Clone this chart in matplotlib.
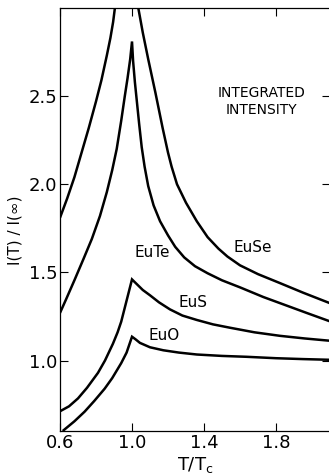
import matplotlib
matplotlib.use("Agg")
import matplotlib.pyplot as plt

# EuSe runs off the top of the frame around T/Tc = 1, so two branches
euse_lo_t = [0.60, 0.64, 0.68, 0.72, 0.76, 0.80, 0.83, 0.86, 0.88, 0.895, 0.905]
euse_lo_y = [1.81, 1.92, 2.04, 2.18, 2.32, 2.47, 2.59, 2.73, 2.83, 2.92, 3.00]
euse_hi_t = [1.035, 1.06, 1.09, 1.13, 1.17, 1.20, 1.22, 1.25, 1.30, 1.36, 1.42, 1.48,
             1.53, 1.60, 1.70, 1.82, 1.95, 2.10]
euse_hi_y = [3.00, 2.86, 2.71, 2.52, 2.32, 2.18, 2.10, 2.00, 1.895, 1.79, 1.70, 1.635,
             1.59, 1.54, 1.49, 1.44, 1.385, 1.325]

eute_t = [0.60, 0.635, 0.68, 0.73, 0.777, 0.822, 0.86, 0.89, 0.915, 0.94, 0.96, 0.975, 0.99, 1.00,
          1.006, 1.016, 1.026, 1.04, 1.054, 1.07, 1.09, 1.12, 1.156, 1.20, 1.24, 1.29, 1.35,
          1.42, 1.50, 1.60, 1.73, 1.85, 1.97, 2.10]
eute_y = [1.27, 1.35, 1.455, 1.575, 1.69, 1.82, 1.955, 2.08, 2.20, 2.36, 2.50, 2.60, 2.71, 2.81,
          2.70, 2.58, 2.48, 2.34, 2.21, 2.10, 1.99, 1.88, 1.79, 1.71, 1.645, 1.585, 1.535,
          1.495, 1.455, 1.415, 1.36, 1.315, 1.27, 1.222]

eus_t = [0.60, 0.65, 0.70, 0.75, 0.811, 0.85, 0.894, 0.92, 0.94, 0.96, 0.98, 1.00,
         1.03, 1.06, 1.10, 1.15, 1.211, 1.28, 1.36, 1.45, 1.544, 1.68, 1.822, 1.96, 2.10]
eus_y = [0.712, 0.74, 0.785, 0.845, 0.93, 1.00, 1.095, 1.16, 1.22, 1.30, 1.38, 1.46,
         1.43, 1.40, 1.37, 1.33, 1.29, 1.255, 1.23, 1.205, 1.186, 1.16, 1.14, 1.125, 1.112]

euo_t = [0.615, 0.68, 0.737, 0.79, 0.848, 0.89, 0.94, 0.97, 1.00,
         1.02, 1.044, 1.10, 1.174, 1.26, 1.36, 1.50, 1.637, 1.80, 1.95, 2.10]
euo_y = [0.60, 0.655, 0.71, 0.77, 0.84, 0.90, 0.985, 1.045, 1.135,
         1.12, 1.10, 1.075, 1.058, 1.045, 1.034, 1.026, 1.021, 1.013, 1.008, 1.004]

x_ticks = [0.6, 1.0, 1.4, 1.8]
x_ticklabels = ["0.6", "1.0", "1.4", "1.8"]
y_ticks = [1.0, 1.5, 2.0, 2.5]
y_ticklabels = ["1.0", "1.5", "2.0", "2.5"]

fig = plt.figure(figsize=(3.29, 4.76), dpi=100)
ax = fig.add_axes([60 / 329, 45 / 476, 270 / 329, 423 / 476])

lw = 1.8
for t, y in [(euse_lo_t, euse_lo_y), (euse_hi_t, euse_hi_y), (eute_t, eute_y),
             (eus_t, eus_y), (euo_t, euo_y)]:
    ax.plot(t, y, color="black", lw=lw, solid_joinstyle="miter", solid_capstyle="butt")

ax.set_xlim(0.6, 2.1)
ax.set_ylim(0.6, 3.0)

ax.set_xticks(x_ticks)
ax.set_xticklabels(x_ticklabels)
ax.set_yticks(y_ticks)
ax.set_yticklabels(y_ticklabels)
ax.tick_params(direction="in", length=6, width=0.8, labelsize=13, pad=2,
               top=True, right=True)

for s in ax.spines.values():
    s.set_linewidth(0.9)

ax.set_xlabel("T/T$_\\mathrm{c}$", fontsize=13, labelpad=2)
ax.set_ylabel("I(T) / I(\u221e)", fontsize=11)
ax.yaxis.set_label_coords(-0.14, 0.475)

ax.text(1.72, 2.47, "INTEGRATED\nINTENSITY", fontsize=10, ha="center", va="center",
        linespacing=1.3)
ax.text(1.11, 1.61, "EuTe", fontsize=11, ha="center", va="center")
ax.text(1.67, 1.64, "EuSe", fontsize=11, ha="center", va="center")
ax.text(1.34, 1.33, "EuS", fontsize=11, ha="center", va="center")
ax.text(1.18, 1.14, "EuO", fontsize=11, ha="center", va="center")

fig.savefig("out.png", dpi=100)
